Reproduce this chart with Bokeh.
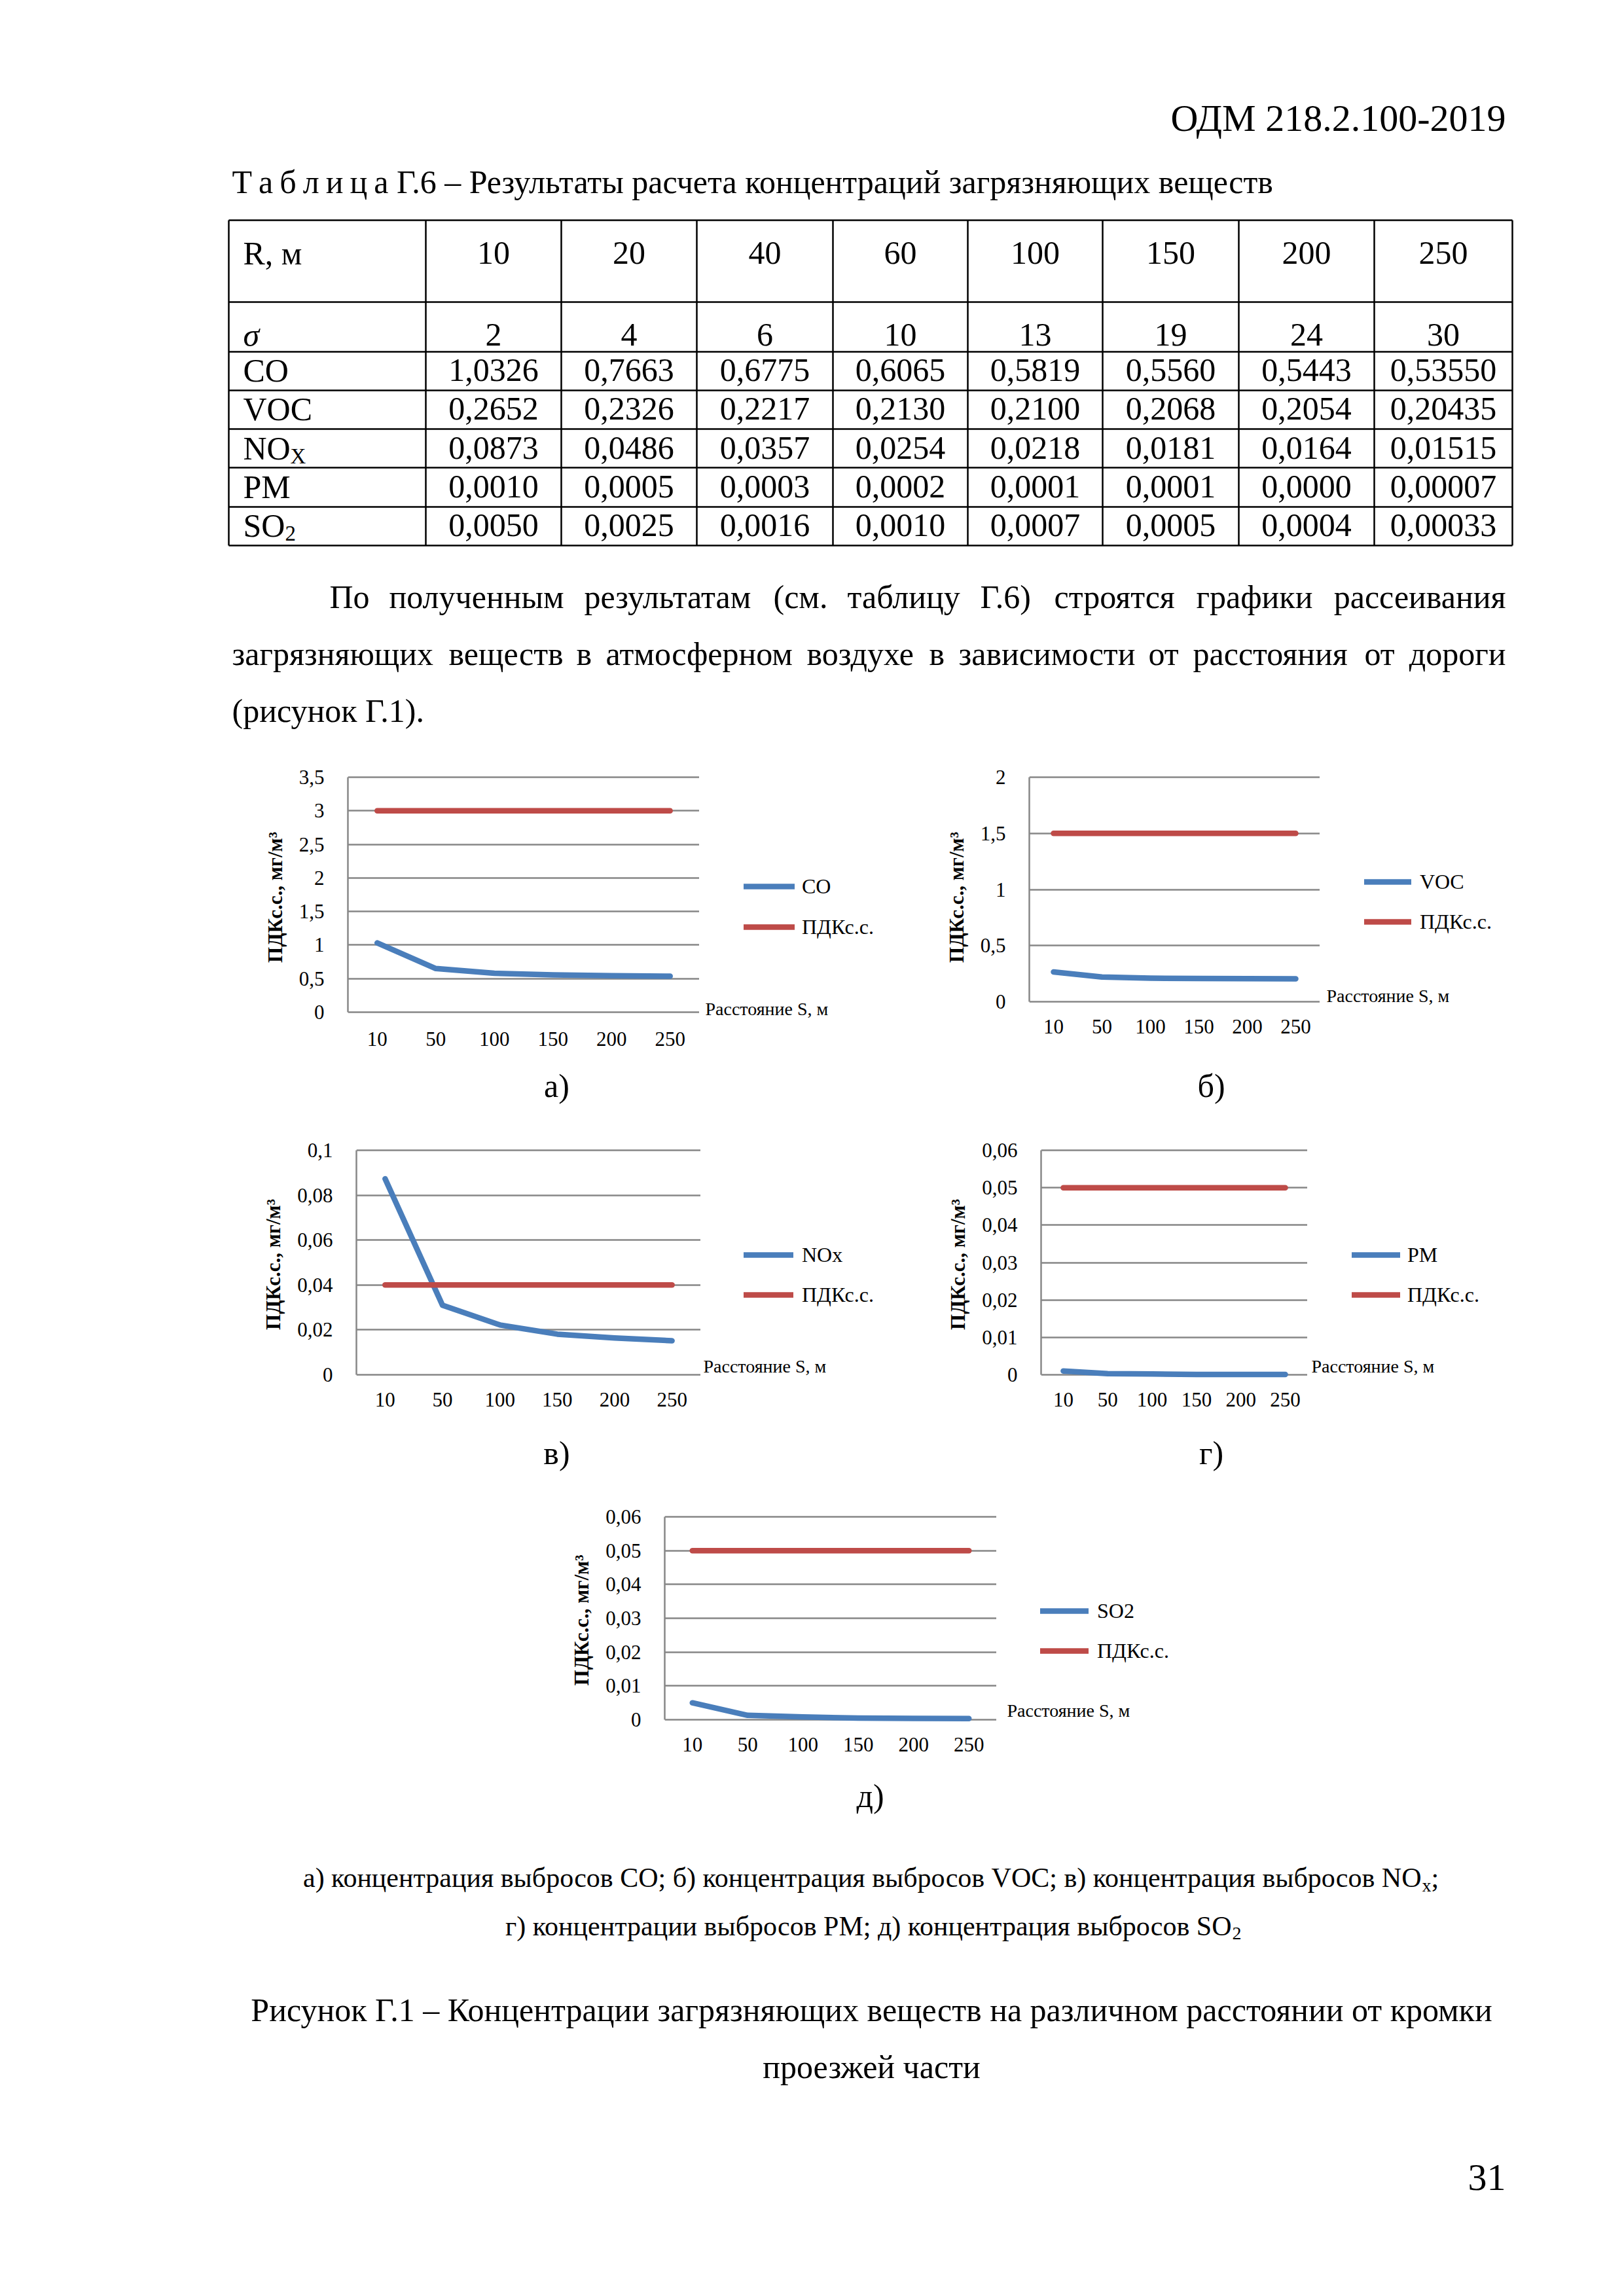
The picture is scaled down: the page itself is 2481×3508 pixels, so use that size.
from bokeh.plotting import figure
from bokeh.models import Range1d, FactorRange, FixedTicker, Legend, LegendItem, Spacer
from bokeh.layouts import column, row
from bokeh.embed import file_html
from bokeh.resources import INLINE
from bokeh.core.properties import value

SERIF = "Liberation Serif"
BLUE = "#4A7EBB"
RED = "#BE4B48"
GRID = "#878787"
PAGE_W = 2470

# ---------------- page texts ----------------
doc_code = "ОДМ 218.2.100-2019"
table_title = "Т\u2009а\u2009б\u2009л\u2009и\u2009ц\u2009а Г.6 – Результаты расчета концентраций загрязняющих веществ"
table_row_names = ["R, м", "σ", "CO", "VOC", "NO", "PM", "SO"]
table_row_subs = ["", "", "", "", "X", "", "2"]

# ---------------- table data ----------------
r_values = ["10", "20", "40", "60", "100", "150", "200", "250"]
sigma_values = ["2", "4", "6", "10", "13", "19", "24", "30"]
co_table = ["1,0326", "0,7663", "0,6775", "0,6065", "0,5819", "0,5560", "0,5443", "0,53550"]
voc_table = ["0,2652", "0,2326", "0,2217", "0,2130", "0,2100", "0,2068", "0,2054", "0,20435"]
nox_table = ["0,0873", "0,0486", "0,0357", "0,0254", "0,0218", "0,0181", "0,0164", "0,01515"]
pm_table = ["0,0010", "0,0005", "0,0003", "0,0002", "0,0001", "0,0001", "0,0000", "0,00007"]
so2_table = ["0,0050", "0,0025", "0,0016", "0,0010", "0,0007", "0,0005", "0,0004", "0,00033"]

para_line1 = ["По", "полученным", "результатам", "(см.", "таблицу", "Г.6)", "строятся", "графики", "рассеивания"]
para_line2 = ["загрязняющих", "веществ", "в", "атмосферном", "воздухе", "в", "зависимости", "от",
              "расстояния", "от", "дороги"]
para_line3 = "(рисунок Г.1)."

sub_caption1 = "а) концентрация выбросов CO; б) концентрация выбросов VOC; в) концентрация выбросов NO"
sub_caption2 = "г) концентрации выбросов PM; д) концентрация выбросов SO"
fig_caption1 = "Рисунок Г.1 – Концентрации загрязняющих веществ на различном расстоянии от кромки"
fig_caption2 = "проезжей части"
page_number = "31"

# ---------------- chart data ----------------
distances = ["10", "50", "100", "150", "200", "250"]
co_values = [1.0326, 0.65, 0.58, 0.556, 0.544, 0.5355]
co_limit = [3.0, 3.0, 3.0, 3.0, 3.0, 3.0]
voc_values = [0.2652, 0.22, 0.21, 0.2068, 0.2054, 0.20435]
voc_limit = [1.5, 1.5, 1.5, 1.5, 1.5, 1.5]
nox_values = [0.0873, 0.031, 0.0222, 0.0181, 0.0164, 0.01515]
nox_limit = [0.04, 0.04, 0.04, 0.04, 0.04, 0.04]
pm_values = [0.0010, 0.0003, 0.0002, 0.0001, 0.0001, 0.00007]
pm_limit = [0.05, 0.05, 0.05, 0.05, 0.05, 0.05]
so2_values = [0.0050, 0.0013, 0.0008, 0.0005, 0.0004, 0.00033]
so2_limit = [0.05, 0.05, 0.05, 0.05, 0.05, 0.05]

co_ticks = [0, 0.5, 1, 1.5, 2, 2.5, 3, 3.5]
co_tick_labels = ["0", "0,5", "1", "1,5", "2", "2,5", "3", "3,5"]
voc_ticks = [0, 0.5, 1, 1.5, 2]
voc_tick_labels = ["0", "0,5", "1", "1,5", "2"]
nox_ticks = [0, 0.02, 0.04, 0.06, 0.08, 0.1]
nox_tick_labels = ["0", "0,02", "0,04", "0,06", "0,08", "0,1"]
pm_ticks = [0, 0.01, 0.02, 0.03, 0.04, 0.05, 0.06]
pm_tick_labels = ["0", "0,01", "0,02", "0,03", "0,04", "0,05", "0,06"]
so2_ticks = [0, 0.01, 0.02, 0.03, 0.04, 0.05, 0.06]
so2_tick_labels = ["0", "0,01", "0,02", "0,03", "0,04", "0,05", "0,06"]

limit_name = "ПДКс.с."
y_title = "ПДКс.с., мг/м³"
x_title = "Расстояние S, м"

MID = 0.3375  # distance from the em-box middle to the baseline, in em


def blank_fig(x0, x1, row_top, row_bottom, frame_top=None, frame_bottom=None):
    ft = row_top if frame_top is None else frame_top
    fb = row_bottom if frame_bottom is None else frame_bottom
    p = figure(width=x1 - x0, height=row_bottom - row_top,
               x_range=Range1d(x0, x1), y_range=Range1d(fb, ft),
               x_axis_location=None, y_axis_location=None, min_border=0,
               min_border_top=ft - row_top, min_border_bottom=row_bottom - fb,
               min_border_left=0, min_border_right=0,
               output_backend="svg", toolbar_location=None)
    p.outline_line_color = None
    p.grid.visible = False
    p.background_fill_color = "white"
    p.border_fill_color = "white"
    return p


def put(p, xs, baselines, texts, size, align="left", style="normal"):
    if not isinstance(xs, list):
        xs, baselines, texts = [xs], [baselines], [texts]
    ys = [b - MID * size for b in baselines]
    p.text(x=xs, y=ys, text=texts, text_font=value(SERIF), text_font_size=f"{size}px",
           text_align=align, text_baseline="middle", text_font_style=style, text_color="black")


# ================= top part of the page =================
top = blank_fig(0, PAGE_W, 0, 1150)
put(top, 2300, 200, doc_code, 58, align="right")
put(top, 354, 294, table_title, 50)

col_edges = [349, 650, 857, 1064, 1272, 1478, 1684, 1892, 2099, 2310]
row_edges = [336, 461, 537, 596, 655, 714, 774, 833]
row_baselines = [403, 528, 582, 641, 701, 760, 819]
top.segment(x0=[col_edges[0]] * len(row_edges), x1=[col_edges[-1]] * len(row_edges),
            y0=row_edges, y1=row_edges, line_color="black", line_width=2.5)
top.segment(x0=col_edges, x1=col_edges, y0=[row_edges[0]] * len(col_edges),
            y1=[row_edges[-1]] * len(col_edges), line_color="black", line_width=2.5)

col_centers = [(col_edges[i] + col_edges[i + 1]) / 2 for i in range(1, len(col_edges) - 1)]
table_rows = [r_values, sigma_values, co_table, voc_table, nox_table, pm_table, so2_table]
for vals, base in zip(table_rows, row_baselines):
    put(top, col_centers, [base] * len(vals), vals, 50, align="center")
for name, sub, base in zip(table_row_names, table_row_subs, row_baselines):
    put(top, 371, base, name, 50, style="italic" if name == "σ" else "normal")
    if sub:
        put(top, 371 + (72 if name == "NO" else 64), base + 7, sub, 33)

para1_x = [503, 594, 892, 1181, 1294, 1497, 1610, 1827]
put(top, para1_x, [928] * len(para1_x), para_line1[:-1], 50)
put(top, 2300, 928, para_line1[-1], 50, align="right")
para2_x = [354, 685, 880, 925, 1232, 1419, 1464, 1754, 1822, 2084]
put(top, para2_x, [1015] * len(para2_x), para_line2[:-1], 50)
put(top, 2300, 1015, para_line2[-1], 50, align="right")
put(top, 354, 1102, para_line3, 50)


# ================= charts =================
def make_chart(values, limit, ticks, tick_labels, x0, x1, row_top, row_bottom,
               frame_top, frame_bottom, frame_left, top_px, zero_px, xlabel_standoff):
    ymax = ticks[-1]
    k = ymax / (zero_px - top_px)
    p = figure(width=x1 - x0, height=row_bottom - row_top,
               x_range=FactorRange(factors=distances, range_padding=0),
               y_range=Range1d(-(frame_bottom - zero_px) * k, ymax + (top_px - frame_top) * k),
               min_border=0,
               min_border_left=frame_left - x0, min_border_right=0,
               min_border_top=frame_top - row_top, min_border_bottom=row_bottom - frame_bottom,
               output_backend="svg", toolbar_location=None)
    p.outline_line_color = None
    p.background_fill_color = "white"
    p.border_fill_color = "white"
    p.xgrid.grid_line_color = None
    p.yaxis.ticker = FixedTicker(ticks=ticks)
    p.ygrid.ticker = FixedTicker(ticks=ticks)
    p.ygrid.grid_line_color = GRID
    p.ygrid.grid_line_width = 2.5
    p.yaxis.major_label_overrides = {t: lab for t, lab in zip(ticks, tick_labels)}
    p.yaxis.bounds = (0, ymax)
    for ax in (p.xaxis, p.yaxis):
        ax.major_tick_line_color = None
        ax.minor_tick_line_color = None
        ax.major_label_text_font = SERIF
        ax.major_label_text_font_size = "31px"
        ax.major_label_text_color = "black"
    p.yaxis.axis_line_color = GRID
    p.yaxis.axis_line_width = 2.5
    p.yaxis.major_label_standoff = 30
    p.yaxis.axis_label = y_title
    p.yaxis.axis_label_text_font = SERIF
    p.yaxis.axis_label_text_font_size = "31px"
    p.yaxis.axis_label_text_font_style = "bold"
    p.yaxis.axis_label_text_color = "black"
    p.yaxis.axis_label_standoff = 16
    p.xaxis.axis_line_color = None
    p.xaxis.major_label_standoff = xlabel_standoff

    p.line(x=distances, y=values, line_color=BLUE, line_width=8.5, line_cap="round", line_join="round")
    p.line(x=distances, y=limit, line_color=RED, line_width=8.5, line_cap="round", line_join="round")
    return p


def make_side(name, x0, x1, row_top, row_bottom, frame_top, frame_bottom,
              legend_x, legend_y, label_x, dist_pos):
    s = blank_fig(x0, x1, row_top, row_bottom, frame_top, frame_bottom)
    # legend keys: styled like the chart's series, their single point lies outside this panel
    k1 = s.line(x=[x0 - 1000], y=[frame_top - 1000], line_color=BLUE, line_width=8.5, line_cap="round")
    k2 = s.line(x=[x0 - 1000], y=[frame_top - 1000], line_color=RED, line_width=8.5, line_cap="round")
    H = 40
    gx0 = legend_x[0] + 4.25
    gx1 = legend_x[1] - 4.25
    legend = Legend(items=[LegendItem(label=name, renderers=[k1]), LegendItem(label=limit_name, renderers=[k2])],
                    location=(int(round(gx0 - x0)), int(round(frame_bottom - (legend_y[1] + H / 2)))),
                    orientation="vertical", glyph_width=int(round(gx1 - gx0)), glyph_height=H, label_height=H,
                    spacing=int(round(legend_y[1] - legend_y[0] - H)), padding=0, margin=0,
                    label_standoff=int(round(label_x - gx1)),
                    border_line_color=None, background_fill_alpha=0,
                    label_text_font=SERIF, label_text_font_size="32px", label_text_color="black")
    s.add_layout(legend)
    put(s, dist_pos[0], dist_pos[1], x_title, 28)
    return s


# row 1
R1T, R1B, F1T, F1B = 1150, 1620, 1183, 1558
chart_a = make_chart(co_values, co_limit, co_ticks, co_tick_labels, 360, 1068, R1T, R1B, F1T, F1B, 531, 1187, 1546, 12)
side_a = make_side("CO", 1068, 1410, R1T, R1B, F1T, F1B, (1132, 1218), (1354, 1416), 1225, (1077, 1550))
chart_b = make_chart(voc_values, voc_limit, voc_ticks, voc_tick_labels, 1410, 2016, R1T, R1B, F1T, F1B, 1572, 1187, 1530, -7)
side_b = make_side("VOC", 2016, PAGE_W, R1T, R1B, F1T, F1B, (2080, 2161), (1347, 1408), 2170, (2026, 1530))
labels1 = blank_fig(0, PAGE_W, 1620, 1700)
put(labels1, [850, 1850], [1675, 1675], ["а)", "б)"], 50, align="center")

# row 2
R2T, R2B, F2T, F2B = 1700, 2170, 1753, 2110
chart_c = make_chart(nox_values, nox_limit, nox_ticks, nox_tick_labels, 360, 1070, R2T, R2B, F2T, F2B, 544, 1757, 2100, 11)
side_c = make_side("NOx", 1070, 1410, R2T, R2B, F2T, F2B, (1132, 1216), (1917, 1978), 1225, (1074, 2096))
chart_d = make_chart(pm_values, pm_limit, pm_ticks, pm_tick_labels, 1410, 1997, R2T, R2B, F2T, F2B, 1590, 1757, 2100, 11)
side_d = make_side("PM", 1997, PAGE_W, R2T, R2B, F2T, F2B, (2061, 2144), (1917, 1978), 2151, (2003, 2096))
labels2 = blank_fig(0, PAGE_W, 2170, 2270)
put(labels2, [850, 1850], [2236, 2236], ["в)", "г)"], 50, align="center")

# row 3
R3T, R3B, F3T, F3B = 2270, 2700, 2313, 2637
chart_e = make_chart(so2_values, so2_limit, so2_ticks, so2_tick_labels, 840, 1522, R3T, R3B, F3T, F3B, 1015, 2317, 2627, 11)
side_e = make_side("SO2", 1522, PAGE_W, R3T, R3B, F3T, F3B, (1585, 1667), (2461, 2522), 1676, (1538, 2622))

# ================= bottom part of the page =================
bottom = blank_fig(0, PAGE_W, 2700, 3500)
put(bottom, 1329, 2760, "д)", 50, align="center")
put(bottom, 2171, 2883, sub_caption1, 42, align="right")
put(bottom, 2172, 2889, "x", 28)
put(bottom, 2186, 2883, ";", 42)
put(bottom, 1881, 2957, sub_caption2, 42, align="right")
put(bottom, 1882, 2963, "2", 28)
put(bottom, 1331, 3087, fig_caption1, 50, align="center")
put(bottom, 1331, 3174, fig_caption2, 50, align="center")
put(bottom, 2300, 3346, page_number, 58, align="right")

layout = column(
    top,
    row(Spacer(width=360, height=R1B - R1T), chart_a, side_a, chart_b, side_b),
    labels1,
    row(Spacer(width=360, height=R2B - R2T), chart_c, side_c, chart_d, side_d),
    labels2,
    row(Spacer(width=840, height=R3B - R3T), chart_e, side_e),
    bottom,
)

open("out.html", "w").write(file_html(layout, INLINE))
